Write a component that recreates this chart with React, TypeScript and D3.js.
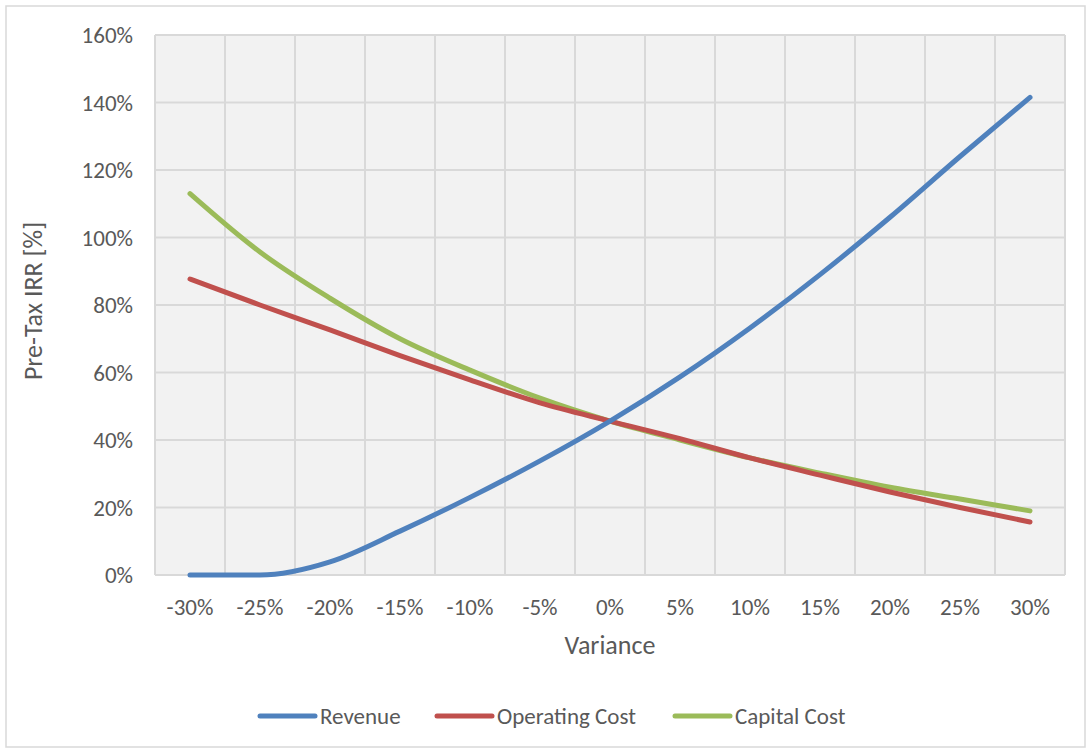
import React, { useEffect, useRef } from "react";
import * as d3 from "d3";

const categories = ["-30%", "-25%", "-20%", "-15%", "-10%", "-5%", "0%", "5%", "10%", "15%", "20%", "25%", "30%"];
const revenue = [0, 0, 3.9, 13, 23, 33.8, 45.6, 58.7, 73.2, 89, 106, 124, 141.5];
const operatingCost = [87.7, 80, 72.6, 65, 57.8, 51, 45.6, 40.4, 34.7, 29.6, 24.6, 20, 15.7];
const capitalCost = [113, 95.7, 82, 70, 60.7, 52.4, 45.6, 40, 34.7, 30.2, 26, 22.5, 19];
const yTicks = [0, 20, 40, 60, 80, 100, 120, 140, 160];
const seriesNames = ["Revenue", "Operating Cost", "Capital Cost"];
const seriesColors = ["#4f81bd", "#c0504d", "#9bbb59"];

export default function App() {
  const ref = useRef<SVGSVGElement>(null);
  useEffect(() => {
    const svg = d3.select(ref.current);
    svg.selectAll("*").remove();
    const W = 1089, H = 750;
    const left = 155, right = 1065, top = 35, bottom = 575;
    const font = "Carlito, Calibri, Lato, sans-serif";
    const txt = "#595959";

    svg.append("rect").attr("x", 0).attr("y", 0).attr("width", W).attr("height", H).attr("fill", "#ffffff");
    svg.append("rect").attr("x", 6).attr("y", 6).attr("width", 1079).attr("height", 741)
      .attr("fill", "#ffffff").attr("stroke", "#d9d9d9").attr("stroke-width", 1.5);

    const xBand = d3.scaleBand().domain(categories).range([left, right]).padding(0);
    const y = d3.scaleLinear().domain([0, 160]).range([bottom, top]);

    svg.append("rect").attr("x", left).attr("y", top).attr("width", right - left).attr("height", bottom - top)
      .attr("fill", "#f2f2f2");

    const g = svg.append("g");
    const bounds = categories.map((c) => xBand(c)!).concat([right]);
    g.selectAll("line.v").data(bounds).enter().append("line")
      .attr("x1", (d) => d).attr("x2", (d) => d).attr("y1", top).attr("y2", bottom)
      .attr("stroke", "#d9d9d9").attr("stroke-width", 2);
    g.selectAll("line.h").data(yTicks).enter().append("line")
      .attr("x1", left).attr("x2", right).attr("y1", (d) => y(d)).attr("y2", (d) => y(d))
      .attr("stroke", "#d9d9d9").attr("stroke-width", 2);

    svg.selectAll("text.yt").data(yTicks).enter().append("text")
      .attr("x", 133).attr("y", (d) => y(d)).attr("dy", "0.35em").attr("text-anchor", "end")
      .attr("font-family", font).attr("font-size", 23).attr("fill", txt)
      .text((d) => d + "%");
    svg.selectAll("text.xt").data(categories).enter().append("text")
      .attr("x", (d) => xBand(d)! + xBand.bandwidth() / 2).attr("y", 607).attr("dy", "0.35em")
      .attr("text-anchor", "middle").attr("font-family", font).attr("font-size", 23).attr("fill", txt)
      .text((d) => d);

    svg.append("text").attr("x", 610).attr("y", 645).attr("dy", "0.35em").attr("text-anchor", "middle")
      .attr("font-family", font).attr("font-size", 26).attr("fill", txt).text("Variance");
    svg.append("text").attr("transform", "translate(33,301) rotate(-90)").attr("dy", "0.35em")
      .attr("text-anchor", "middle").attr("font-family", font).attr("font-size", 26).attr("fill", txt)
      .text("Pre-Tax IRR [%]");

    const series = [revenue, operatingCost, capitalCost];
    const line = d3.line<number>()
      .x((_, i) => xBand(categories[i])! + xBand.bandwidth() / 2)
      .y((d) => y(d))
      .curve(d3.curveMonotoneX);
    [2, 1, 0].forEach((si) => {
      svg.append("path").attr("d", line(series[si])!).attr("fill", "none")
        .attr("stroke", seriesColors[si]).attr("stroke-width", 5).attr("stroke-linecap", "round")
        .attr("stroke-linejoin", "round");
    });

    const legendX = [260, 437, 675];
    seriesNames.forEach((name, i) => {
      svg.append("line").attr("x1", legendX[i]).attr("x2", legendX[i] + 55).attr("y1", 716).attr("y2", 716)
        .attr("stroke", seriesColors[i]).attr("stroke-width", 5).attr("stroke-linecap", "round");
      svg.append("text").attr("x", legendX[i] + 60).attr("y", 716).attr("dy", "0.35em")
        .attr("font-family", font).attr("font-size", 23).attr("fill", txt).text(name);
    });
  }, []);
  return (
    <svg ref={ref} width={1089} height={750} style={{ position: "absolute", left: 0, top: 0, display: "block" }} />
  );
}
